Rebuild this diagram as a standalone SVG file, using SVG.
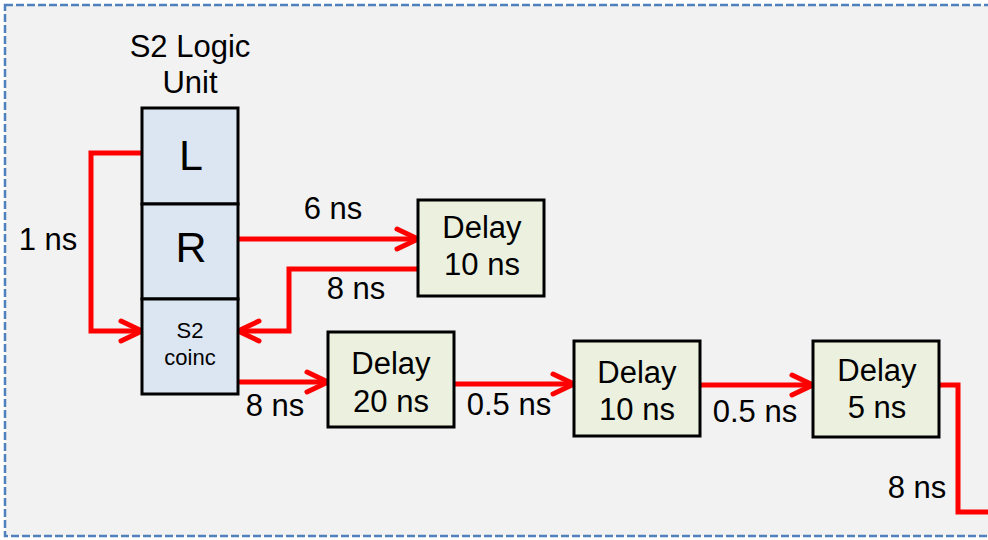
<svg xmlns="http://www.w3.org/2000/svg" width="988" height="540" viewBox="0 0 988 540">
<style>
text{font-family:"Liberation Sans",Arial,sans-serif;fill:#000;text-anchor:middle}
.lbl{font-size:31px}
.big{font-size:43px}
.sm{font-size:22px}
.lu{fill:#dce6f2;stroke:#000;stroke-width:3}
.dl{fill:#ebf1de;stroke:#000;stroke-width:3}
.wire{fill:none;stroke:#ff0000;stroke-width:5;stroke-linejoin:miter}
.arr{marker-end:url(#ah)}
</style>
<defs>
<marker id="ah" markerUnits="userSpaceOnUse" markerWidth="30" markerHeight="30" refX="0" refY="0" viewBox="-25 -15 30 30" orient="auto" overflow="visible">
<path d="M-21,-10 L0,0 L-21,10" fill="none" stroke="#ff0000" stroke-width="5" stroke-linecap="round"/>
</marker>
</defs>
<rect x="0" y="0" width="988" height="540" fill="#ffffff"/>
<rect x="5" y="5" width="990" height="531" fill="#f2f2f2" stroke="#4f81bd" stroke-width="2.5" stroke-dasharray="8 3"/>
<g id="title">
<text class="lbl" x="190" y="57">S2 Logic</text>
<text class="lbl" x="190" y="93">Unit</text>
</g>
<g id="connectors">
<path class="wire arr" d="M142,153 H91 V331 H142"/>
<path class="wire arr" d="M238,239 H418"/>
<path class="wire arr" d="M418,269 H289 V331 H238"/>
<path class="wire arr" d="M238,382 H328"/>
<path class="wire arr" d="M454,384 H574"/>
<path class="wire arr" d="M700,385 H813"/>
<path class="wire" d="M939,385 H958 V512 H990"/>
<text class="lbl" x="48" y="250">1 ns</text>
<text class="lbl" x="333" y="219">6 ns</text>
<text class="lbl" x="356" y="299">8 ns</text>
<text class="lbl" x="275" y="416">8 ns</text>
<text class="lbl" x="509" y="415">0.5 ns</text>
<text class="lbl" x="755" y="422">0.5 ns</text>
<text class="lbl" x="917" y="498">8 ns</text>
</g>
<g id="L">
<rect class="lu" x="142" y="108" width="96" height="96"/>
<text class="big" x="191" y="170">L</text>
</g>
<g id="R">
<rect class="lu" x="142" y="204" width="96" height="95"/>
<text class="big" x="191" y="262">R</text>
</g>
<g id="S2coinc">
<rect class="lu" x="142" y="299" width="96" height="95"/>
<text class="sm" x="190" y="338">S2</text>
<text class="sm" x="190" y="365">coinc</text>
</g>
<g id="delay10a">
<rect class="dl" x="418" y="200" width="126" height="96"/>
<text class="lbl" x="482" y="238">Delay</text>
<text class="lbl" x="482" y="275">10 ns</text>
</g>
<g id="delay20">
<rect class="dl" x="328" y="332" width="126" height="95"/>
<text class="lbl" x="391" y="374">Delay</text>
<text class="lbl" x="391" y="412">20 ns</text>
</g>
<g id="delay10b">
<rect class="dl" x="574" y="341" width="126" height="95"/>
<text class="lbl" x="637" y="383">Delay</text>
<text class="lbl" x="637" y="420">10 ns</text>
</g>
<g id="delay5">
<rect class="dl" x="813" y="341" width="126" height="96"/>
<text class="lbl" x="877" y="381">Delay</text>
<text class="lbl" x="877" y="418">5 ns</text>
</g>
</svg>
